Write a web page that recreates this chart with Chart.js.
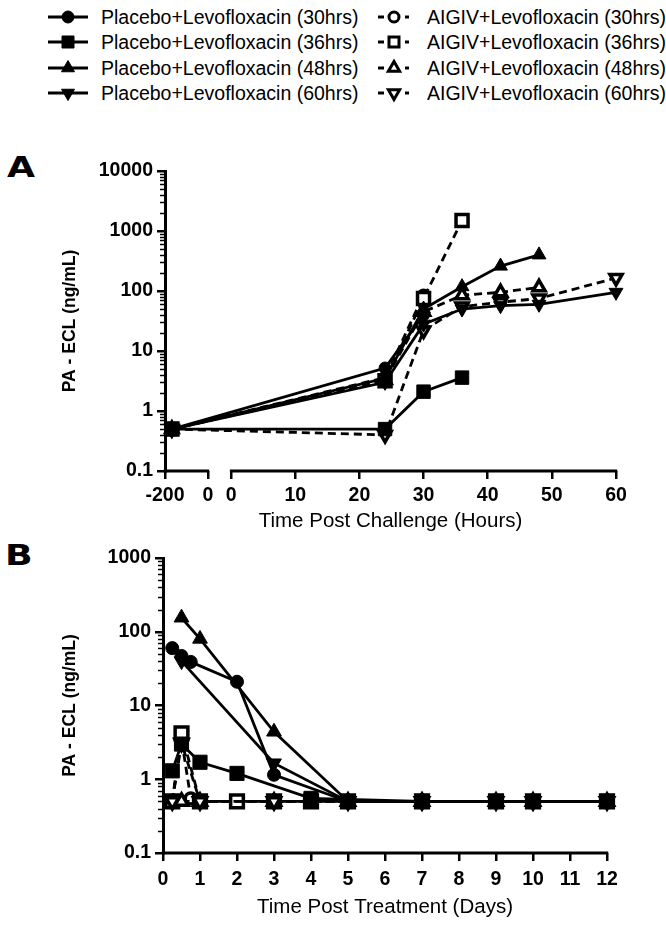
<!DOCTYPE html>
<html>
<head>
<meta charset="utf-8">
<script src="https://cdn.jsdelivr.net/npm/chart.js@4.4.0/dist/chart.umd.min.js"></script>
<style>
  body { margin: 0; background: #fff; }
  #page { position: relative; width: 666px; height: 925px; overflow: hidden; font-family: "Liberation Sans", Arial, sans-serif; color: #000; }
  .panel-letter { position: absolute; font-family: "DejaVu Sans", sans-serif; font-weight: bold; font-size: 29px; line-height: 29px; transform: scaleX(1.25); transform-origin: left top; }
  .leg-item { position: absolute; height: 22px; }
  .leg-item canvas { position: absolute; top: 0; }
  .leg-item span { position: absolute; top: 0; font-size: 19.5px; line-height: 22px; white-space: nowrap; }
  canvas.chart { position: absolute; left: 0; }
</style>
</head>
<body>
<div id="page">
  <div id="legend"></div>
  <div class="panel-letter" style="left:7px; top:153px;">A</div>
  <div class="panel-letter" style="left:5px; top:541px;">B</div>
  <canvas id="chartA" class="chart" width="666" height="415" style="top:125px;"></canvas>
  <canvas id="chartB" class="chart" width="666" height="385" style="top:540px;"></canvas>
</div>
<script>
// --- Series names ---
const groupLabels = [
  'Placebo+Levofloxacin (30hrs)',
  'Placebo+Levofloxacin (36hrs)',
  'Placebo+Levofloxacin (48hrs)',
  'Placebo+Levofloxacin (60hrs)',
  'AIGIV+Levofloxacin (30hrs)',
  'AIGIV+Levofloxacin (36hrs)',
  'AIGIV+Levofloxacin (48hrs)',
  'AIGIV+Levofloxacin (60hrs)'
];

// --- Panel A: hours post challenge ---
const aHoursP30 = [-168, 24, 30];
const aValsP30 = [0.5, 5.2, 40];
const aHoursP36 = [-168, 24, 30, 36];
const aValsP36 = [0.5, 0.5, 2.1, 3.6];
const aHoursP48 = [-168, 24, 30, 36, 42, 48];
const aValsP48 = [0.5, 3.5, 50, 118, 260, 400];
const aHoursP60 = [-168, 24, 30, 36, 42, 48, 60];
const aValsP60 = [0.5, 3.0, 28, 50, 57, 60, 95];
const aHoursA30 = [-168, 24, 30];
const aValsA30 = [0.5, 3.6, 85];
const aHoursA36 = [-168, 24, 30, 36];
const aValsA36 = [0.5, 3.2, 75, 1500];
const aHoursA48 = [-168, 24, 30, 36, 42, 48];
const aValsA48 = [0.5, 3.3, 45, 85, 95, 115];
const aHoursA60 = [-168, 24, 30, 36, 42, 48, 60];
const aValsA60 = [0.5, 0.4, 22, 55, 65, 75, 165];

// eje x partido: -200..0 y 0..60
const aXTickValues = [-200, 0, 0, 10, 20, 30, 40, 50, 60];
const aXTickLabels = ['-200', '0', '0', '10', '20', '30', '40', '50', '60'];
const aYTickLabels = ['0.1', '1', '10', '100', '1000', '10000'];

// --- Panel B: days post treatment ---
const bDaysP30 = [0.25, 0.5, 0.75, 2, 3, 5, 7, 9, 10, 12];
const bValsP30 = [60, 47, 39, 21, 1.15, 0.5, 0.5, 0.5, 0.5, 0.5];
const bDaysP36 = [0.25, 0.5, 1, 2, 4, 7, 9, 10, 12];
const bValsP36 = [1.3, 3.0, 1.7, 1.2, 0.55, 0.5, 0.5, 0.5, 0.5];
const bDaysP48 = [0.5, 1, 3, 5, 7, 9, 10, 12];
const bValsP48 = [155, 80, 4.4, 0.5, 0.5, 0.5, 0.5, 0.5];
const bDaysP60 = [0.5, 3, 5, 7, 9, 10, 12];
const bValsP60 = [40, 1.65, 0.5, 0.5, 0.5, 0.5, 0.5];
const bDaysA30 = [0.25, 0.5, 0.75, 1, 2, 3, 4, 5, 7, 9, 10, 12];
const bValsA30 = [0.5, 3.5, 0.55, 0.5, 0.5, 0.5, 0.5, 0.5, 0.5, 0.5, 0.5, 0.5];
const bDaysA36 = [0.25, 0.5, 1, 2, 3, 4, 5, 7, 9, 10, 12];
const bValsA36 = [0.5, 4.2, 0.5, 0.5, 0.5, 0.5, 0.5, 0.5, 0.5, 0.5, 0.5];
const bDaysA48 = [0.5, 1, 3, 5, 7, 9, 10, 12];
const bValsA48 = [0.5, 0.5, 0.5, 0.5, 0.5, 0.5, 0.5, 0.5];
const bDaysA60 = [0.25, 0.5, 1, 3, 5, 7, 9, 10, 12];
const bValsA60 = [0.5, 3.1, 0.5, 0.5, 0.5, 0.5, 0.5, 0.5, 0.5];

const bXTickLabels = ['0', '1', '2', '3', '4', '5', '6', '7', '8', '9', '10', '11', '12'];
const bYTickLabels = ['0.1', '1', '10', '100', '1000'];

// --- Estilos de marcadores ---
const markerShapes = ['circle', 'rect', 'triangle', 'triangle'];
const markerRotations = [0, 0, 0, 180];

// posiciones virtuales del tramo -200..0 en el eje partido
const SEG1_START = -10.3;
const SEG1_END = -3.6;
function mapHours(h) {
    if (h < 0) return SEG1_START + (h + 200) / 200 * (SEG1_END - SEG1_START);
    return h;
}
function mapTick(v, i) {
    return i < 2 ? mapHours(v === 0 ? -0.0001 : v) : v;
}

function makeDataset(i, xs, ys, mapX, sizes) {
    const placebo = i < 4;
    const k = i % 4;
    return {
        label: groupLabels[i],
        data: xs.map((x, j) => ({ x: mapX ? mapX(x) : x, y: ys[j] })),
        borderColor: '#000',
        borderWidth: 2.8,
        borderDash: placebo ? [] : [8, 5],
        pointStyle: markerShapes[k],
        pointRotation: markerRotations[k],
        pointRadius: placebo ? sizes[k] : sizes[k] - 1,
        pointHoverRadius: placebo ? sizes[k] : sizes[k] - 1,
        pointBorderWidth: placebo ? 1 : 3.5,
        pointBackgroundColor: placebo ? '#000' : '#fff',
        pointBorderColor: '#000',
        tension: 0,
        clip: false
    };
}

// --- Decoración de ejes: marcas menores y eje x partido ---
const axisDecor = {
    id: 'axisDecor',
    afterDraw(chart, args, opts) {
        const ctx = chart.ctx;
        const ys = chart.scales.y;
        const xs = chart.scales.x;
        ctx.save();
        ctx.strokeStyle = '#000';
        ctx.lineWidth = 1.5;
        const e0 = Math.round(Math.log10(ys.min));
        const e1 = Math.round(Math.log10(ys.max));
        for (let e = e0; e < e1; e++) {
            for (let m = 2; m <= 9; m++) {
                const py = Math.round(ys.getPixelForValue(m * Math.pow(10, e))) + 0.5;
                ctx.beginPath();
                ctx.moveTo(ys.right - 5, py);
                ctx.lineTo(ys.right, py);
                ctx.stroke();
            }
        }
        ctx.lineWidth = 3;
        ctx.lineCap = 'butt';
        (opts.segments || []).forEach(seg => {
            ctx.beginPath();
            ctx.moveTo(xs.getPixelForValue(seg[0]) - 1.2, xs.top);
            ctx.lineTo(xs.getPixelForValue(seg[1]) + 1.2, xs.top);
            ctx.stroke();
        });
        ctx.restore();
    }
};

const tickFont = { family: '"Liberation Sans", Arial, sans-serif', weight: 'bold', size: 19.5 };
const yTitleFont = { family: '"Liberation Sans", Arial, sans-serif', weight: 'bold', size: 17.5 };
const xTitleFont = { family: '"Liberation Sans", Arial, sans-serif', size: 20.5 };

function logAxis(min, max, labels, width) {
    return {
        type: 'logarithmic',
        min: min,
        max: max,
        afterBuildTicks: s => {
            s.ticks = labels.map(l => ({ value: parseFloat(l), major: true }));
        },
        afterFit: s => { s.width = width; },
        ticks: {
            font: tickFont,
            color: '#000',
            padding: 4,
            autoSkip: false,
            callback: (v, i) => labels[i]
        },
        grid: { display: true, drawOnChartArea: false, drawTicks: true, tickLength: 8, color: '#000', lineWidth: 2.5 },
        border: { display: true, color: '#000', width: 3 },
        title: { display: true, text: 'PA - ECL (ng/mL)', font: yTitleFont, color: '#000', padding: { top: 10, bottom: 0 } }
    };
}

Chart.defaults.color = '#000';

// --- Panel A ---
const sizesA = [6, 9.5, 8, 8];
const datasetsA = [
    makeDataset(1, aHoursP36, aValsP36, mapHours, sizesA),
    makeDataset(0, aHoursP30, aValsP30, mapHours, sizesA),
    makeDataset(3, aHoursP60, aValsP60, mapHours, sizesA),
    makeDataset(2, aHoursP48, aValsP48, mapHours, sizesA),
    makeDataset(7, aHoursA60, aValsA60, mapHours, sizesA),
    makeDataset(6, aHoursA48, aValsA48, mapHours, sizesA),
    makeDataset(5, aHoursA36, aValsA36, mapHours, sizesA),
    makeDataset(4, aHoursA30, aValsA30, mapHours, sizesA)
];

new Chart(document.getElementById('chartA'), {
    type: 'line',
    data: { datasets: datasetsA },
    options: {
        responsive: false,
        animation: false,
        devicePixelRatio: 1,
        layout: { padding: { top: 46, right: 50, left: 50, bottom: 0 } },
        plugins: {
            legend: { display: false },
            tooltip: { enabled: false },
            axisDecor: { segments: [[SEG1_START, SEG1_END], [0, 60]] }
        },
        scales: {
            x: {
                type: 'linear',
                min: SEG1_START,
                max: 60,
                afterBuildTicks: s => {
                    s.ticks = aXTickValues.map((v, i) => ({ value: mapTick(v, i) }));
                },
                afterFit: s => { s.height = 69; },
                ticks: { font: tickFont, color: '#000', padding: 5, autoSkip: false, maxRotation: 0, callback: (v, i) => aXTickLabels[i] },
                grid: { display: true, drawOnChartArea: false, drawTicks: true, tickLength: 8, color: '#000', lineWidth: 2.5 },
                border: { display: false },
                title: { display: true, text: 'Time Post Challenge (Hours)', font: xTitleFont, color: '#000', padding: { top: 0, bottom: 6.5 } }
            },
            y: logAxis(0.1, 10000, aYTickLabels, 115)
        }
    },
    plugins: [axisDecor]
});

// --- Panel B ---
const sizesB = [6.5, 10, 8.5, 8.5];
const datasetsB = [
    makeDataset(1, bDaysP36, bValsP36, null, sizesB),
    makeDataset(0, bDaysP30, bValsP30, null, sizesB),
    makeDataset(3, bDaysP60, bValsP60, null, sizesB),
    makeDataset(2, bDaysP48, bValsP48, null, sizesB),
    makeDataset(7, bDaysA60, bValsA60, null, sizesB),
    makeDataset(6, bDaysA48, bValsA48, null, sizesB),
    makeDataset(5, bDaysA36, bValsA36, null, sizesB),
    makeDataset(4, bDaysA30, bValsA30, null, sizesB)
];

new Chart(document.getElementById('chartB'), {
    type: 'line',
    data: { datasets: datasetsB },
    options: {
        responsive: false,
        animation: false,
        devicePixelRatio: 1,
        layout: { padding: { top: 18, right: 59, left: 50, bottom: 0 } },
        plugins: {
            legend: { display: false },
            tooltip: { enabled: false },
            axisDecor: { segments: [[0, 12]] }
        },
        scales: {
            x: {
                type: 'linear',
                min: 0,
                max: 12,
                afterBuildTicks: s => {
                    s.ticks = bXTickLabels.map(l => ({ value: parseFloat(l) }));
                },
                afterFit: s => { s.height = 72; },
                ticks: { font: tickFont, color: '#000', padding: 7, autoSkip: false, maxRotation: 0, callback: (v, i) => bXTickLabels[i] },
                grid: { display: true, drawOnChartArea: false, drawTicks: true, tickLength: 8, color: '#000', lineWidth: 2.5 },
                border: { display: false },
                title: { display: true, text: 'Time Post Treatment (Days)', font: xTitleFont, color: '#000', padding: { top: 0, bottom: 5.5 } }
            },
            y: logAxis(0.1, 1000, bYTickLabels, 113)
        }
    },
    plugins: [axisDecor]
});

// --- Leyenda ---
function drawLegendIcon(canvas, k, placebo) {
    const ctx = canvas.getContext('2d');
    const w = canvas.width, h = canvas.height, cy = h / 2, cx = w / 2;
    ctx.strokeStyle = '#000';
    ctx.lineWidth = 3;
    if (placebo) {
        ctx.beginPath(); ctx.moveTo(0, cy); ctx.lineTo(w, cy); ctx.stroke();
    } else {
        ctx.beginPath(); ctx.moveTo(2, cy); ctx.lineTo(8, cy); ctx.stroke();
        ctx.beginPath(); ctx.moveTo(w - 7, cy); ctx.lineTo(w - 3, cy); ctx.stroke();
    }
    ctx.fillStyle = placebo ? '#000' : '#fff';
    ctx.lineWidth = placebo ? 1 : 3;
    ctx.beginPath();
    if (k === 0) {
        ctx.arc(cx, cy, placebo ? 6 : 5, 0, Math.PI * 2);
    } else if (k === 1) {
        const s = placebo ? 6 : 5;
        ctx.rect(cx - s, cy - s, 2 * s, 2 * s);
    } else {
        const r = placebo ? 7.5 : 6.5;
        const dir = k === 3 ? -1 : 1;
        ctx.moveTo(cx, cy - dir * r);
        ctx.lineTo(cx + r * 0.866, cy + dir * r * 0.5);
        ctx.lineTo(cx - r * 0.866, cy + dir * r * 0.5);
        ctx.closePath();
    }
    ctx.fill();
    ctx.stroke();
}

const legendRows = [17, 42, 68, 93];
const legend = document.getElementById('legend');
groupLabels.forEach((label, i) => {
    const placebo = i < 4;
    const k = i % 4;
    const item = document.createElement('div');
    item.className = 'leg-item';
    item.style.top = (legendRows[k] - 11) + 'px';
    item.style.left = (placebo ? 48 : 376) + 'px';
    const cv = document.createElement('canvas');
    cv.width = placebo ? 40 : 36;
    cv.height = 22;
    cv.style.left = '0px';
    const sp = document.createElement('span');
    sp.textContent = label;
    sp.style.left = (placebo ? 53 : 51) + 'px';
    item.appendChild(cv);
    item.appendChild(sp);
    legend.appendChild(item);
    drawLegendIcon(cv, k, placebo);
});
</script>
</body>
</html>
